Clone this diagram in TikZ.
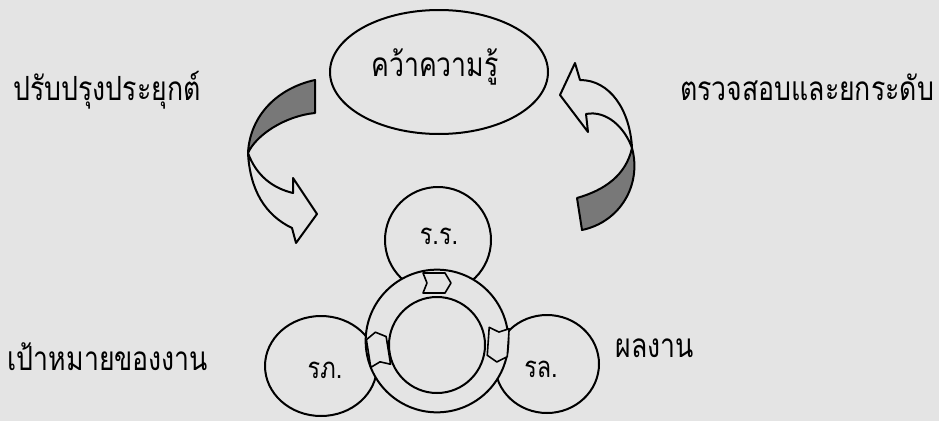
\documentclass[tikz,border=0pt]{standalone}
\usepackage{fontspec}
\usetikzlibrary{shapes.geometric}
\newfontfamily\thaifont[Script=Thai,FakeStretch=0.80]{Loma}
\definecolor{bgc}{RGB}{228,228,228}
\definecolor{shadec}{RGB}{120,120,120}
\begin{document}
\begin{tikzpicture}[x=0.75pt,y=-0.75pt, line width=1.5pt, line join=round,
  lbl/.style={font=\thaifont\fontsize{25}{29}\selectfont, inner sep=0pt},
  inlbl/.style={font=\thaifont\fontsize{22}{26}\selectfont, inner sep=0pt},
  biglbl/.style={font=\thaifont\fontsize{25}{29}\selectfont, inner sep=0pt},
  outl/.style={draw=black, fill=bgc},
  band/.style={draw=black, fill=shadec},
  ringarrow/.style={draw=black, fill=bgc, line width=1.2pt}]
\useasboundingbox[fill=bgc] (0,0) rectangle (939,421);

% top ellipse
\node[outl, ellipse, minimum width=163.5pt, minimum height=93pt, inner sep=0pt] (know) at (439,72) {};
\node[biglbl] (knowt) at (435,67) {คว้าความรู้};

% labels
\node[lbl] (improve) at (107,90) {ปรับปรุงประยุกต์};
\node[lbl] (check) at (807,87) {ตรวจสอบและยกระดับ};
\node[lbl] (goal) at (108,357) {เป้าหมายของงาน};
\node[lbl] (result) at (655,348) {ผลงาน};

% left curved arrow
\path[outl] (248,153) .. controls (250,190) and (265,215) .. (292,228)
  -- (296,243) -- (317,214) -- (293,178) -- (293,193)
  .. controls (272,188) and (256,175) .. (248,153) -- cycle;
\path[band] (315,80) .. controls (278,88) and (250,115) .. (248,153)
  .. controls (256,135) and (285,116) .. (315,113) -- cycle;

% right curved arrow
\path[outl] (580,80) .. controls (610,80) and (630,110) .. (632,148)
  .. controls (625,128) and (607,110) .. (586,114)
  -- (588,132) -- (560,95) -- (575,63) -- cycle;
\path[band] (632,148) .. controls (642,185) and (620,222) .. (582,230)
  -- (577,198) .. controls (605,190) and (626,175) .. (632,148) -- cycle;

% three circles
\node[outl, circle, minimum size=79.5pt, inner sep=0pt] (rr) at (438,240) {};
\node[outl, ellipse, minimum width=84pt, minimum height=75pt, inner sep=0pt] (rp) at (321,366) {};
\node[outl, ellipse, minimum width=78pt, minimum height=73.5pt, inner sep=0pt] (rl) at (547,364) {};
\node[inlbl] (rrt) at (439,236) {ร.ร.};
\node[inlbl] (rpt) at (325,370) {รภ.};
\node[inlbl] (rlt) at (541,369) {รล.};

% ring
\node[outl, circle, minimum size=107pt, inner sep=0pt] (ring) at (437,341) {};
\node[outl, circle, minimum size=72pt, inner sep=0pt] (core) at (437,345) {};

% arrows on the ring
\foreach \px/\py/\ang/\len in {437/283/0/14, 498/345/-94/17, 378/349/99/17}{
  \begin{scope}[shift={(\px,\py)}, rotate=\ang]
    \path[ringarrow] (-\len,-10) -- (\len-6,-10) -- (\len,0) -- (\len-6,10)
      -- (-\len,10) -- (-\len+4,0) -- cycle;
  \end{scope}
}
\end{tikzpicture}
\end{document}
